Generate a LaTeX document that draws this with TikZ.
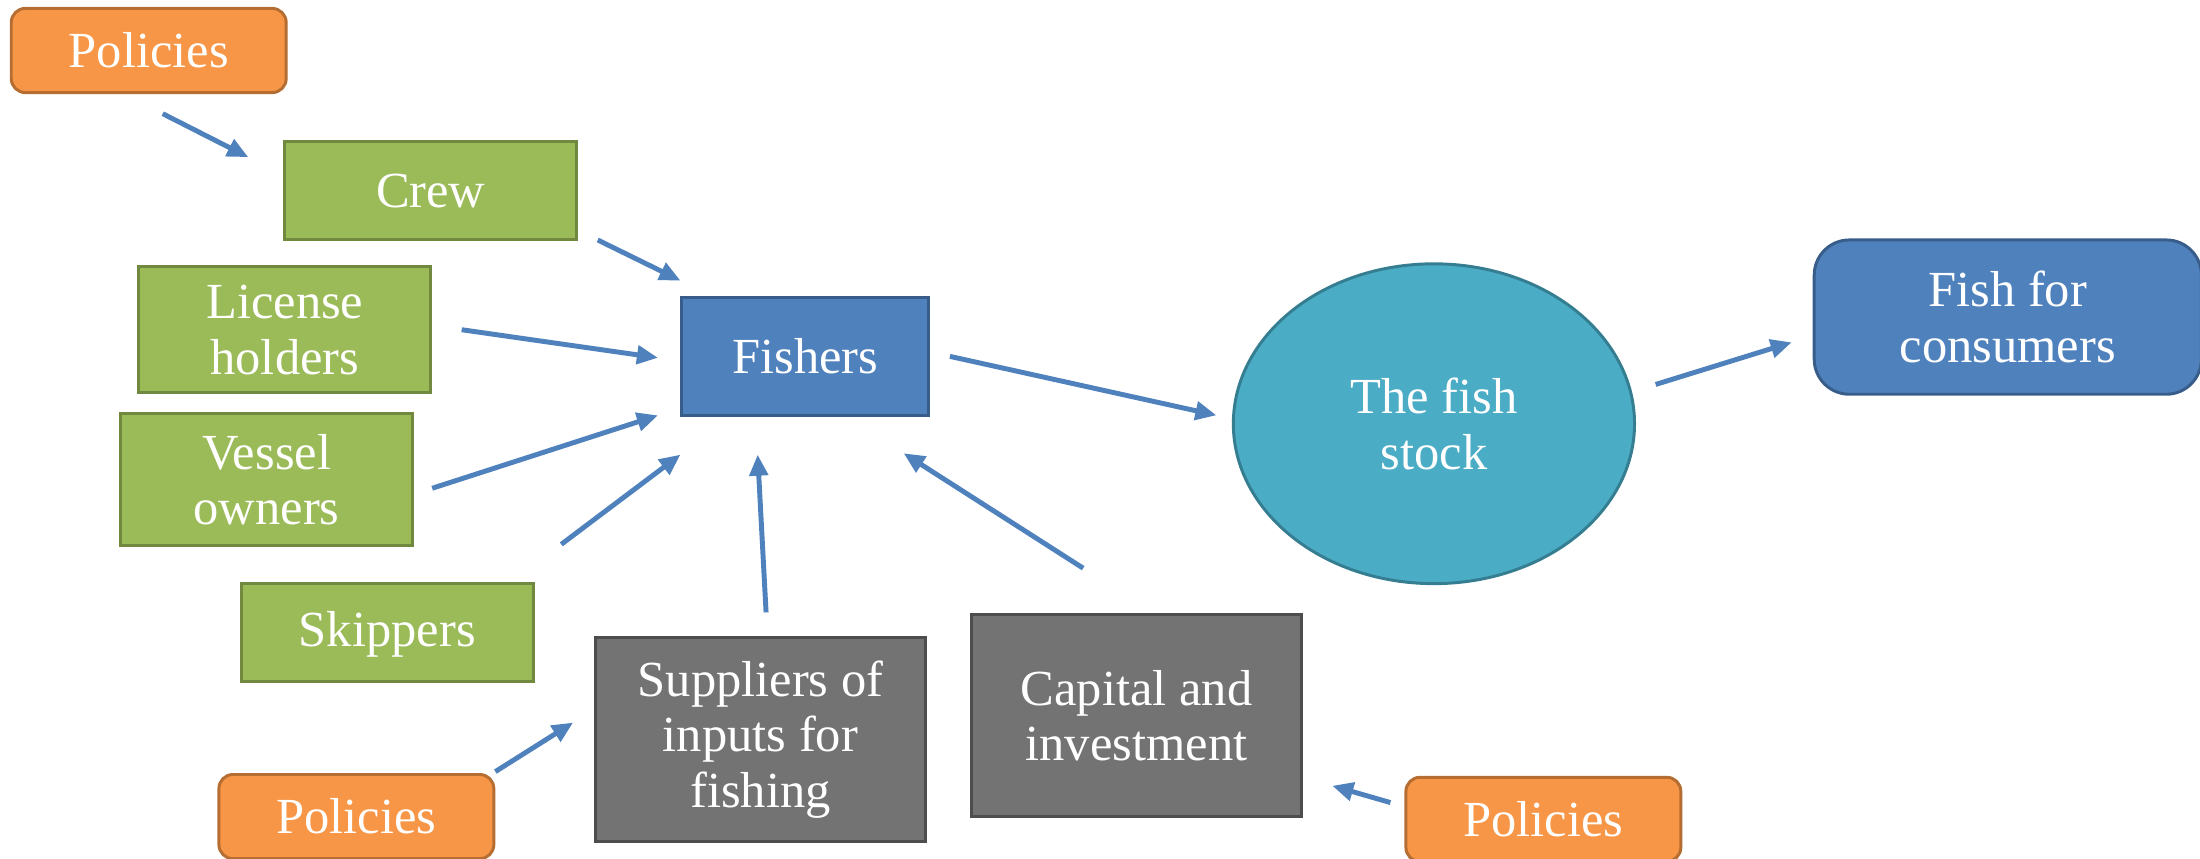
\documentclass[tikz,border=0pt]{standalone}
\usepackage{fontspec}
\setmainfont{Liberation Serif}
\usepackage{tikz}
\usetikzlibrary{positioning, shapes.geometric, arrows.meta}
\definecolor{polfill}{HTML}{F79646}
\definecolor{polline}{HTML}{B66D31}
\definecolor{grnfill}{HTML}{9BBB59}
\definecolor{grnline}{HTML}{71893F}
\definecolor{bluefill}{HTML}{4F81BD}
\definecolor{blueline}{HTML}{385D8A}
\definecolor{stockfill}{HTML}{4BACC6}
\definecolor{stockline}{HTML}{357D91}
\definecolor{greyfill}{HTML}{737373}
\definecolor{greyline}{HTML}{4D4D4D}
\tikzstyle{box} = [draw, line width=1.2pt, text=white, align=center, inner sep=0pt,
  font=\fontsize{20.5pt}{22.6pt}\selectfont]
\tikzstyle{policy} = [box, fill=polfill, draw=polline, rounded corners=0.2cm,
  minimum width=3.92cm, minimum height=1.2cm]
\tikzstyle{factor} = [box, fill=grnfill, draw=grnline, minimum width=4.16cm, minimum height=1.4cm]
\tikzstyle{actor} = [box, fill=bluefill, draw=blueline, minimum width=3.52cm, minimum height=1.68cm]
\tikzstyle{stock} = [box, ellipse, fill=stockfill, draw=stockline, minimum width=5.72cm, minimum height=4.56cm]
\tikzstyle{market} = [box, fill=bluefill, draw=blueline, rounded corners=0.5cm,
  minimum width=5.52cm, minimum height=2.2cm]
\tikzstyle{input} = [box, fill=greyfill, draw=greyline, minimum width=4.7cm, minimum height=2.9cm]
\tikzstyle{link} = [draw=bluefill, line width=2pt, -{Triangle[length=0.3cm, width=0.26cm]}]

\begin{document}
\begin{tikzpicture}[x=0.02cm, y=-0.02cm]
\useasboundingbox (0,0) rectangle (1568,612);
\node[policy] (pol1) at (106,36) {Policies};
\node[factor] (crew) at (307,136) {Crew};
\node[factor, minimum height=1.8cm] (lic) at (203,235) {License\\holders};
\node[factor, minimum height=1.88cm] (ves) at (190,342) {Vessel\\owners};
\node[factor, text depth=0.12cm] (skip) at (276,451) {Skippers};
\node[actor] (fishers) at (574,254) {Fishers};
\node[stock] (stock) at (1022,302) {The fish\\stock};
\node[market] (cons) at (1431,226) {Fish for\\consumers};
\node[input] (sup) at (542,527) {Suppliers of\\inputs for\\fishing};
\node[input, minimum height=2.88cm] (cap) at (810,510) {Capital and\\investment};
\node[policy] (pol2) at (254,582) {Policies};
\node[policy] (pol3) at (1100,584) {Policies};

\draw[link] ([shift={(10,14)}]pol1.south) -- ([shift={(-25,-24)}]crew.west);
\draw[link] ([shift={(14,-1)}]crew.south east) -- ([shift={(0,-11)}]fishers.north west);
\draw[link] ([shift={(21,0)}]lic.east) -- ([shift={(-16,1)}]fishers.west);
\draw[link] ([shift={(13,6)}]ves.east) -- ([shift={(-16,-1)}]fishers.south west);
\draw[link] ([shift={(19,-27)}]skip.north east) -- ([shift={(0,27)}]fishers.south west);
\draw[link] ([shift={(4,-17)}]sup.north) -- ([shift={(-34,27)}]fishers.south);
\draw[link] ([shift={(-38,-32)}]cap.north) -- ([shift={(-19,26)}]fishers.south east);
\draw[link] ([shift={(14,0)}]fishers.east) -- ([shift={(-11,-6)}]stock.west);
\draw[link] ([shift={(14,-28)}]stock.east) -- ([shift={(-15,18)}]cons.west);
\draw[link] ([shift={(0,-1)}]pol2.north east) -- ([shift={(-15,-12)}]sup.west);
\draw[link] ([shift={(-10,-12)}]pol3.west) -- ([shift={(21,-23)}]cap.south east);
\end{tikzpicture}
\end{document}
